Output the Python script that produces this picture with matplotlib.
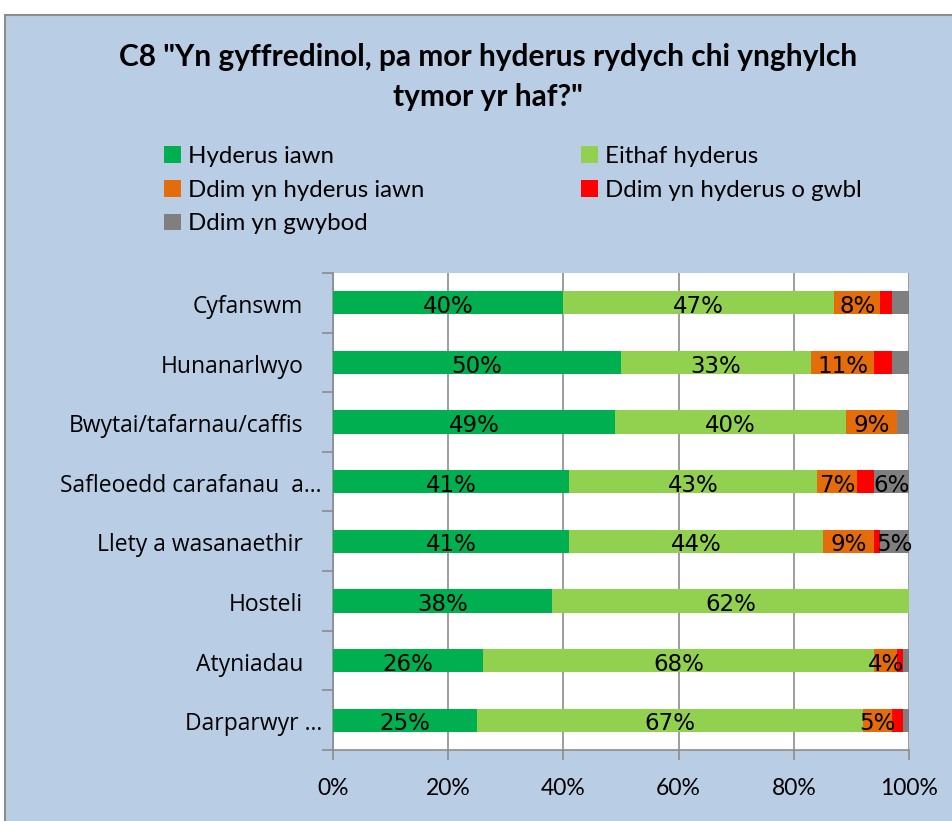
import matplotlib
matplotlib.use("Agg")
import matplotlib.pyplot as plt
from matplotlib.patches import Rectangle, Patch
import numpy as np

categories = ["Cyfanswm", "Hunanarlwyo", "Bwytai/tafarnau/caffis",
              "Safleoedd carafanau  a…", "Llety a wasanaethir", "Hosteli",
              "Atyniadau", "Darparwyr …"]
series_names = ["Hyderus iawn", "Eithaf hyderus", "Ddim yn hyderus iawn",
                "Ddim yn hyderus o gwbl", "Ddim yn gwybod"]
hyderus_iawn = [40, 50, 49, 41, 41, 38, 26, 25]
eithaf_hyderus = [47, 33, 40, 43, 44, 62, 68, 67]
ddim_hyderus_iawn = [8, 11, 9, 7, 9, 0, 4, 5]
ddim_hyderus_gwbl = [2, 3, 0, 3, 1, 0, 1, 2]
ddim_gwybod = [3, 3, 2, 6, 5, 0, 1, 1]
xtick_labels = ["0%", "20%", "40%", "60%", "80%", "100%"]

colors = ["#00B050", "#92D050", "#E46C0A", "#FF0000", "#7F7F7F"]
bg = "#B9CDE5"
series = [hyderus_iawn, eithaf_hyderus, ddim_hyderus_iawn, ddim_hyderus_gwbl, ddim_gwybod]

W, H = 953, 821
fig = plt.figure(figsize=(W / 100, H / 100), dpi=100, facecolor="white")
fig.patches.append(Rectangle((5 / W, -0.01), 1.0, 1 - 15 / H + 0.01, transform=fig.transFigure,
                             facecolor=bg, edgecolor="#8c8c8c", linewidth=1.5, zorder=-10))

ax = fig.add_axes([333 / W, 1 - 750 / H, (909 - 333) / W, (750 - 273) / H])
ax.set_facecolor("white")

y = np.arange(len(categories))
left = np.zeros(len(categories))
for vals, c in zip(series, colors):
    vals = np.array(vals, dtype=float)
    ax.barh(y, vals, left=left, height=0.39, color=c, edgecolor="none", zorder=3)
    for yi, v, l in zip(y, vals, left):
        if v >= 4:
            ax.text(l + v / 2, yi + 0.06, f"{int(v)}%", ha="center", va="center",
                    fontsize=16.5, family="DejaVu Sans", color="black", zorder=4)
    left += vals

ax.set_xlim(0, 100)
ax.set_ylim(len(categories) - 0.5, -0.5)
ax.set_xticks(np.arange(0, 101, 20))
ax.set_xticklabels(xtick_labels, family="Lato", fontsize=16.5)
ax.set_yticks(np.arange(-0.5, len(categories), 1.0))
ax.set_yticklabels([])
ax.tick_params(axis="y", which="major", length=8, color="#8c8c8c", width=1.2)
ax.tick_params(axis="x", length=7, color="#8c8c8c", width=1.2, pad=13)
ax.grid(axis="x", color="#8c8c8c", linewidth=1.2, zorder=1)
for s in ["top", "right"]:
    ax.spines[s].set_visible(False)
for s in ["left", "bottom"]:
    ax.spines[s].set_color("#8c8c8c")
    ax.spines[s].set_linewidth(1.2)

# category labels (truncated labels sit closer to the axis, as in the original)
for yi, cat in zip(y, categories):
    off = -8 if cat.endswith("…") else -21.5
    ax.annotate(cat, xy=(0, yi), xycoords=("axes fraction", "data"),
                xytext=(off, -3), textcoords="offset points", ha="right", va="center",
                fontsize=16.5, family="Open Sans", annotation_clip=False)

fig.text(488 / W, 1 - 57 / H, 'C8 "Yn gyffredinol, pa mor hyderus rydych chi ynghylch',
         ha="center", va="center", fontsize=21.5, fontweight="bold", family="Lato")
fig.text(488 / W, 1 - 97 / H, 'tymor yr haf?"', ha="center", va="center",
         fontsize=21.5, fontweight="bold", family="Lato")

handles = [Patch(facecolor=c, edgecolor="none") for c in colors]
leg_kw = dict(frameon=False, prop={"family": "Lato", "size": 17.3}, handlelength=0.7,
              handleheight=0.7, handletextpad=0.3, labelspacing=0.53, loc="upper left",
              borderaxespad=0, borderpad=0)
l1 = fig.legend([handles[0], handles[2], handles[4]],
                [series_names[0], series_names[2], series_names[4]],
                bbox_to_anchor=(164 / W, 1 - 146 / H), **leg_kw)
l2 = fig.legend([handles[1], handles[3]], [series_names[1], series_names[3]],
                bbox_to_anchor=(581 / W, 1 - 146 / H), **leg_kw)

fig.savefig("out.png", dpi=100, facecolor="white")
